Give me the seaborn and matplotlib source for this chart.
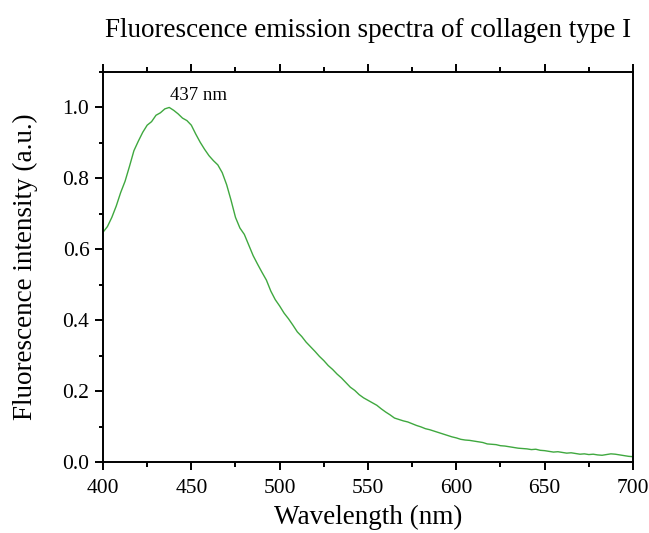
import numpy as np
import pandas as pd
import matplotlib
matplotlib.use("Agg")
import matplotlib.pyplot as plt
from matplotlib.ticker import MultipleLocator
import seaborn as sns

wavelength_start = 400.0
wavelength_step = 2.5
intensity = [
    0.648, 0.664, 0.690, 0.722, 0.760, 0.792, 0.834, 0.878, 0.905, 0.930,
    0.950, 0.960, 0.978, 0.985, 0.996, 1.000, 0.992, 0.982, 0.970, 0.963,
    0.950, 0.925, 0.902, 0.882, 0.864, 0.850, 0.838, 0.816, 0.782, 0.738,
    0.690, 0.660, 0.642, 0.612, 0.582, 0.558, 0.535, 0.513, 0.482, 0.458,
    0.440, 0.420, 0.404, 0.386, 0.367, 0.354, 0.338, 0.325, 0.312, 0.298,
    0.286, 0.272, 0.261, 0.248, 0.237, 0.224, 0.211, 0.202, 0.190, 0.181,
    0.174, 0.167, 0.160, 0.150, 0.141, 0.133, 0.124, 0.120, 0.116, 0.113,
    0.108, 0.103, 0.099, 0.094, 0.091, 0.087, 0.083, 0.079, 0.075, 0.071,
    0.068, 0.064, 0.062, 0.061, 0.059, 0.057, 0.055, 0.051, 0.050, 0.049,
    0.046, 0.045, 0.043, 0.041, 0.039, 0.038, 0.037, 0.035, 0.036, 0.033,
    0.032, 0.030, 0.028, 0.029, 0.027, 0.025, 0.026, 0.024, 0.022, 0.023,
    0.021, 0.022, 0.020, 0.019, 0.021, 0.023, 0.022, 0.020, 0.018, 0.016,
    0.015,
]
wavelength = [wavelength_start + i * wavelength_step for i in range(len(intensity))]

x_ticks = [400, 450, 500, 550, 600, 650, 700]
y_ticks = [0.0, 0.2, 0.4, 0.6, 0.8, 1.0]
peak_label = "437 nm"
peak_pos = (437.8, 1.034)

df = pd.DataFrame({"Wavelength": wavelength, "Intensity": intensity})

sns.set_theme(style="ticks")
plt.rcParams["font.family"] = ["Liberation Serif", "DejaVu Serif"]

fig = plt.figure(figsize=(6.49, 5.33), dpi=100)
ax = fig.add_axes([0.1587, 0.1332, 0.9753 - 0.1587, 0.8649 - 0.1332])

sns.lineplot(data=df, x="Wavelength", y="Intensity", ax=ax,
             color="#3fa83f", linewidth=1.0)

ax.set_xlim(400, 700)
ax.set_ylim(0, 1.1)
ax.set_xticks(x_ticks)
ax.set_yticks(y_ticks)
ax.set_yticklabels([f"{v:.1f}" for v in y_ticks])
ax.xaxis.set_minor_locator(MultipleLocator(25))
ax.yaxis.set_minor_locator(MultipleLocator(0.1))

for s in ax.spines.values():
    s.set_visible(True)
    s.set_color("black")
    s.set_linewidth(1.4)

ax.tick_params(axis="x", which="both", direction="out", bottom=True, top=True,
               labeltop=False, colors="black", width=1.4, labelsize=15.5, pad=6.5)
ax.tick_params(axis="x", which="major", length=5.5)
ax.tick_params(axis="x", which="minor", length=3.5)
ax.tick_params(axis="y", which="both", direction="out", left=True, right=False,
               colors="black", width=1.4, labelsize=15.5, pad=4.3)
ax.tick_params(axis="y", which="major", length=5.5)
ax.tick_params(axis="y", which="minor", length=3)

ax.set_xlabel("Wavelength (nm)", fontsize=19.5, color="black", labelpad=5.5)
ax.set_ylabel("Fluorescence intensity (a.u.)", fontsize=19.5, color="black", labelpad=17.5)
ax.set_title("Fluorescence emission spectra of collagen type I", fontsize=19.5,
             color="black", pad=25)
ax.text(peak_pos[0], peak_pos[1], peak_label, fontsize=13.5, color="black",
        ha="left", va="center")

fig.savefig("out.png", dpi=100)
